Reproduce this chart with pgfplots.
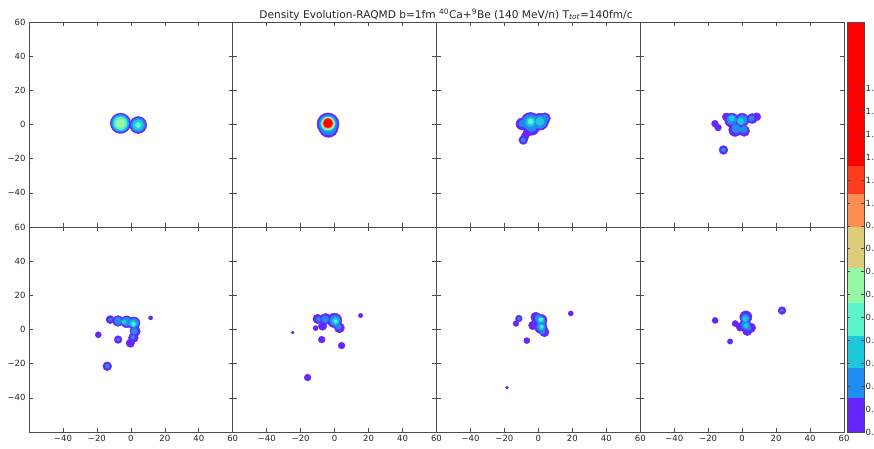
\documentclass[border=0pt]{standalone}
\usepackage{pgfplots}
\usepackage{pgfplotstable}
\pgfplotsset{compat=1.18}
\usepackage{fontspec}
\setmainfont{DejaVu Sans}

% contour level colours (rainbow map)
\definecolor{c0}{RGB}{100,40,252}
\definecolor{c1}{RGB}{30,140,240}
\definecolor{c2}{RGB}{30,200,220}
\definecolor{c3}{RGB}{90,245,200}
\definecolor{c4}{RGB}{150,248,165}
\definecolor{c5}{RGB}{220,205,125}
\definecolor{c6}{RGB}{255,140,80}
\definecolor{c7}{RGB}{255,60,30}
\definecolor{c8}{RGB}{255,0,0}

% density blobs: centre (x,y), radius r (fm), contour level c
\pgfplotstableread{
x y r c
-6.1 0.7 6.0 0
4.3 -0.3 5.0 0
-6.1 0.7 5.2 1
4.3 -0.3 4.1 1
-6.1 0.7 4.5 2
4.3 -0.3 3.2 2
-6.1 0.7 3.7 3
4.3 -0.3 1.6 3
-6.1 0.7 2.6 4
}\tA
\pgfplotstableread{
x y r c
-3.9 0.3 6.5 0
-3.6 -2.0 5.6 0
-3.9 0.4 5.3 1
-3.7 -1.5 4.6 1
-3.9 0.5 4.4 2
-3.9 0.5 3.9 3
-3.9 0.6 3.6 4
-3.9 0.6 3.3 5
-3.9 0.7 3.0 6
-3.9 0.7 2.8 7
-3.9 0.8 2.5 8
}\tB
\pgfplotstableread{
x y r c
-4.6 1.3 5.8 0
0.9 1.6 5.0 0
3.8 3.6 3.3 0
-9.7 0.3 3.5 0
-3.8 -2.1 4.2 0
-6.4 -4.5 2.6 0
-7.8 -6.8 2.3 0
-8.9 -9.1 2.6 0
-4.6 1.3 4.6 1
0.9 1.6 3.9 1
3.8 3.6 2.2 1
-3.8 -1.5 2.8 1
-9.5 0.5 2.0 1
-8.9 -9.1 1.2 1
-4.6 1.5 2.8 2
0.9 1.8 2.4 2
-4.6 1.8 1.5 3
}\tC
\pgfplotstableread{
x y r c
-6.1 2.5 4.2 0
0.0 2.6 4.0 0
5.9 3.5 3.0 0
8.6 4.5 2.4 0
-4.1 -3.2 3.8 0
1.2 -3.8 3.2 0
-9.4 4.5 2.3 0
-16.0 0.5 2.0 0
-14.2 -1.8 2.0 0
-11.0 -14.9 2.6 0
-6.1 2.8 3.0 1
0.0 2.6 3.0 1
-3.5 -2.5 2.6 1
1.0 -3.0 2.0 1
5.5 3.5 1.6 1
-11.0 -14.9 1.2 1
-6.1 3.6 1.6 2
-1.0 1.8 1.8 2
}\tD
\pgfplotstableread{
x y r c
11.6 6.8 1.2 0
-19.2 -3.1 1.8 0
-7.5 -5.9 2.3 0
-13.9 -21.5 2.6 0
-12.2 5.8 2.4 0
-7.6 5.0 3.2 0
-2.4 4.5 3.5 0
1.8 3.8 3.6 0
2.5 -1.0 3.1 0
1.5 -4.8 2.9 0
-0.3 -8.0 2.5 0
-7.5 5.0 2.2 1
-2.5 4.6 2.6 1
1.8 3.8 2.8 1
-12.0 5.8 1.0 1
2.0 -1.0 1.8 1
1.2 -4.5 1.2 1
-13.9 -21.5 1.2 1
-7.5 -5.9 0.9 1
1.4 3.4 1.9 2
-4.0 4.5 1.3 2
1.6 3.2 1.0 3
}\tE
\pgfplotstableread{
x y r c
15.3 8.2 1.3 0
-24.7 -1.8 0.9 0
-7.6 -5.9 2.0 0
4.1 -9.4 2.0 0
-15.9 -28.1 2.0 0
-10.0 6.2 2.8 0
-5.3 6.2 3.3 0
0.0 5.3 4.3 0
2.8 1.0 3.0 0
-7.1 2.0 2.5 0
-11.2 0.8 1.5 0
-5.5 6.0 2.0 1
0.3 5.2 3.2 1
-9.5 6.0 1.3 1
2.2 1.6 1.6 1
0.5 5.0 2.0 2
0.6 4.8 0.9 3
}\tF
\pgfplotstableread{
x y r c
19.1 9.4 1.5 0
-18.5 -34.0 0.9 0
-6.8 -6.5 1.8 0
-11.5 6.4 2.0 0
-13.2 3.5 1.7 0
-1.5 7.2 3.0 0
1.5 5.3 3.6 0
1.5 1.2 3.6 0
-3.2 2.4 2.6 0
3.5 -1.5 2.8 0
0.0 6.6 2.0 1
1.5 5.0 2.6 1
1.5 1.5 2.6 1
2.5 -1.0 1.5 1
-11.5 6.2 0.9 1
1.5 5.6 1.7 2
1.8 1.5 1.6 2
1.5 5.8 1.0 3
1.9 1.6 0.7 3
}\tG
\pgfplotstableread{
x y r c
23.5 11.1 2.3 0
-15.9 5.3 1.8 0
-7.1 -7.0 1.6 0
-4.1 3.5 1.8 0
-2.5 2.5 1.5 0
2.2 7.3 3.6 0
1.8 2.3 3.5 0
5.2 1.0 2.8 0
3.0 -0.8 2.8 0
-1.2 1.2 2.2 0
2.0 6.6 2.4 1
2.0 2.5 2.4 1
3.8 1.0 1.4 1
23.5 11.1 0.9 1
1.8 6.2 1.5 2
2.4 2.2 1.3 2
}\tH

\pgfplotsset{
  panel/.style={
    anchor=south west, scale only axis,
    width=203.75pt, height=205pt,
    xmin=-60, xmax=60, ymin=-60, ymax=60,
    xtick={-40,-20,0,20,40,60}, ytick={-40,-20,0,20,40,60},
    xticklabels={{},{},{},{},{},{}}, yticklabels={{},{},{},{},{},{}},
    tick align=inside, major tick length=4pt,
    axis line style={black!70, line width=0.9pt},
    every tick/.style={black!70, line width=0.6pt},
    ticklabel style={font=\fontsize{8.5}{10}\selectfont, text=black!85},
    colormap={rb}{rgb255(0)=(100,40,252) rgb255(1)=(30,140,240)
      rgb255(2)=(30,200,220) rgb255(3)=(90,245,200) rgb255(4)=(150,248,165)
      rgb255(5)=(220,205,125) rgb255(6)=(255,140,80) rgb255(7)=(255,60,30)
      rgb255(8)=(255,0,0)},
    point meta min=0, point meta max=8,
  },
  xlab/.style={xticklabels={−40,−20,0,20,40,60}},
  ylab/.style={yticklabels={−40,−20,0,20,40,60}},
  blobs/.style={
    scatter, only marks, mark=*, point meta=explicit,
    scatter/use mapped color={draw=mapped color, fill=mapped color},
    visualization depends on={1.7*\thisrow{r} \as \rad},
    scatter/@pre marker code/.append style={/tikz/mark size=\rad},
  },
}

\begin{document}
\begin{tikzpicture}
\path[use as bounding box] (0,0) rectangle (874pt,448pt);

% top row
\begin{axis}[panel, ylab, at={(29pt,221pt)}]
\addplot[blobs] table[x=x, y=y, meta=c] {\tA};
\end{axis}
\begin{axis}[panel, at={(232.75pt,221pt)}]
\addplot[blobs] table[x=x, y=y, meta=c] {\tB};
\end{axis}
\begin{axis}[panel, at={(436.5pt,221pt)}]
\addplot[blobs] table[x=x, y=y, meta=c] {\tC};
\end{axis}
\begin{axis}[panel, at={(640.25pt,221pt)}]
\addplot[blobs] table[x=x, y=y, meta=c] {\tD};
\end{axis}

% bottom row
\begin{axis}[panel, xlab, ylab, at={(29pt,16pt)}]
\addplot[blobs] table[x=x, y=y, meta=c] {\tE};
\end{axis}
\begin{axis}[panel, xlab, at={(232.75pt,16pt)}]
\addplot[blobs] table[x=x, y=y, meta=c] {\tF};
\end{axis}
\begin{axis}[panel, xlab, at={(436.5pt,16pt)}]
\addplot[blobs] table[x=x, y=y, meta=c] {\tG};
\end{axis}
\begin{axis}[panel, xlab, at={(640.25pt,16pt)}]
\addplot[blobs] table[x=x, y=y, meta=c] {\tH};
\end{axis}

% colour scale
\begin{axis}[anchor=south west, at={(847pt,16pt)}, scale only axis,
  width=17pt, height=410pt,
  xmin=0, xmax=1, ymin=0, ymax=1.79, xtick=\empty,
  ytick={0,0.1,0.2,0.3,0.4,0.5,0.6,0.7,0.8,0.9,1.0,1.1,1.2,1.3,1.4,1.5},
  yticklabel pos=right, tick align=inside, major tick length=3pt,
  yticklabel style={/pgf/number format/fixed, /pgf/number format/fixed zerofill,
    /pgf/number format/precision=1, font=\fontsize{8.5}{10}\selectfont,
    text=black!85, xshift=-1.8pt},
  /pgf/number format/assume math mode=true,
  axis line style={black!70, line width=0.9pt},
  every tick/.style={black!70, line width=0.6pt},
  axis on top]
\addplot[fill=c0, draw=none] coordinates {(0,0) (1,0) (1,0.147) (0,0.147)};
\addplot[fill=c1, draw=none] coordinates {(0,0.147) (1,0.147) (1,0.28) (0,0.28)};
\addplot[fill=c2, draw=none] coordinates {(0,0.28) (1,0.28) (1,0.42) (0,0.42)};
\addplot[fill=c3, draw=none] coordinates {(0,0.42) (1,0.42) (1,0.565) (0,0.565)};
\addplot[fill=c4, draw=none] coordinates {(0,0.565) (1,0.565) (1,0.715) (0,0.715)};
\addplot[fill=c5, draw=none] coordinates {(0,0.715) (1,0.715) (1,0.895) (0,0.895)};
\addplot[fill=c6, draw=none] coordinates {(0,0.895) (1,0.895) (1,1.04) (0,1.04)};
\addplot[fill=c7, draw=none] coordinates {(0,1.04) (1,1.04) (1,1.16) (0,1.16)};
\addplot[fill=c8, draw=none] coordinates {(0,1.16) (1,1.16) (1,1.79) (0,1.79)};
\end{axis}

\node[anchor=base, font=\fontsize{10.6}{12}\selectfont, text=black!85] at (446pt,429.7pt)
  {Density Evolution-RAQMD b=1fm \textsuperscript{40}Ca+\textsuperscript{9}Be (140 MeV/n) T\textsubscript{\itshape tot}=140fm/c};
\end{tikzpicture}
\end{document}
